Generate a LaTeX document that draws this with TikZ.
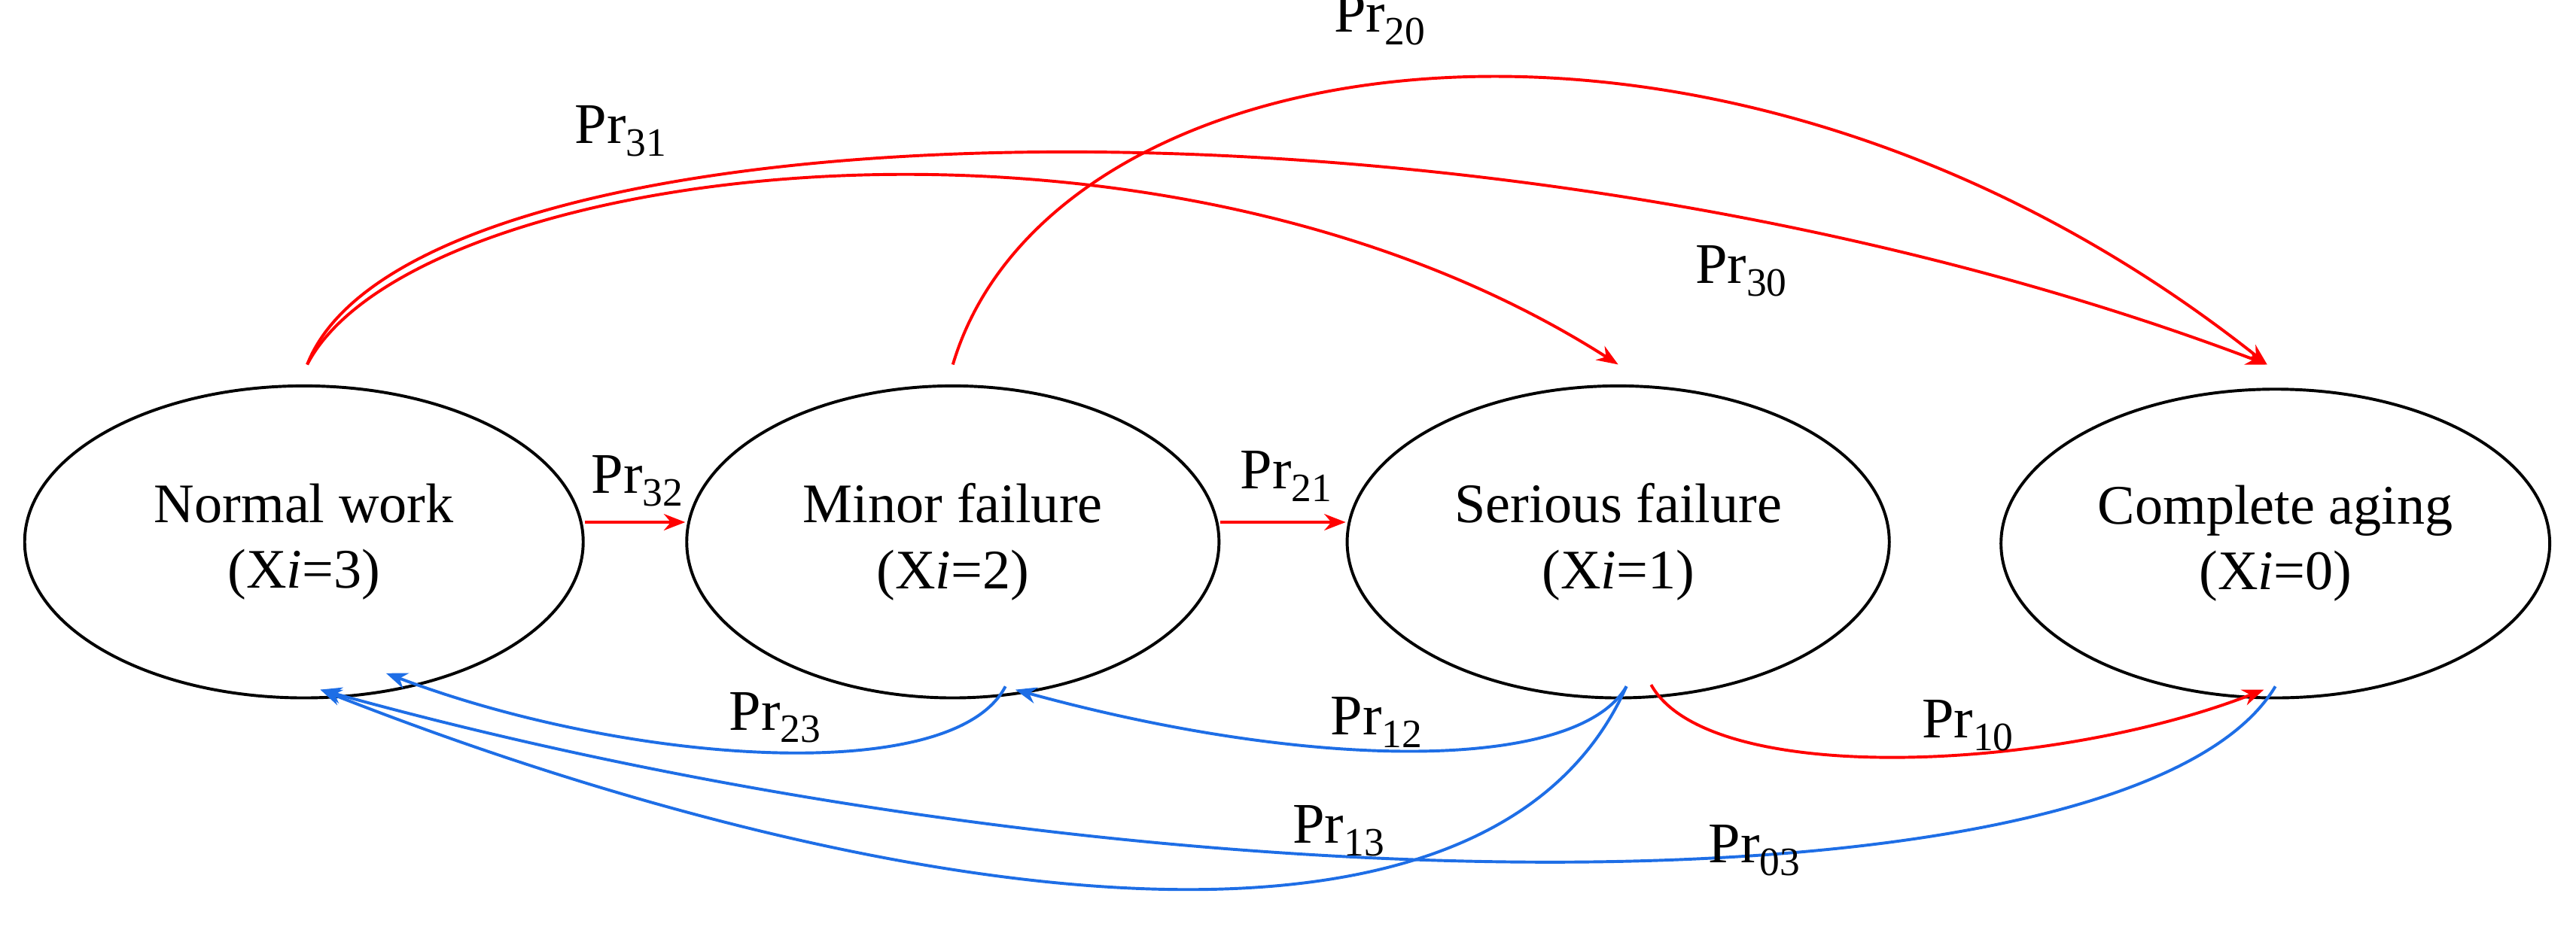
\documentclass[tikz,border=0pt]{standalone}
\usepackage{fontspec}
\setmainfont{Liberation Serif}
\usetikzlibrary{arrows.meta,shapes.geometric}
\begin{document}
\begin{tikzpicture}[x=1pt,y=-1pt,
 st/.style={draw,line width=1.8pt,ellipse,inner sep=0pt,font=\fontsize{34}{40}\selectfont,align=center},
 r/.style={draw={rgb,255:red,255;green,0;blue,0},line width=1.8pt,-{Stealth[length=13pt,width=10pt]}},
 b/.style={draw={rgb,255:red,30;green,110;blue,230},line width=1.8pt,-{Stealth[length=13pt,width=10pt]}},
 lb/.style={font=\fontsize{35}{40}\selectfont}]
\useasboundingbox (0,0) rectangle (1568,570);
\node[st,minimum width=340pt,minimum height=190pt] (n) at (185,330) {Normal work\\(X\textit{i}=3)};
\node[st,minimum width=324pt,minimum height=190pt] (m) at (580,330) {Minor failure\\(X\textit{i}=2)};
\node[st,minimum width=330pt,minimum height=190pt] (s) at (985,330) {Serious failure\\(X\textit{i}=1)};
\node[st,minimum width=334pt,minimum height=188pt] (c) at (1385,331) {Complete aging\\(X\textit{i}=0)};
\coordinate (nt) at (187,222);
\draw[r] (n.east |- 0,318) -- (m.west |- 0,318);
\draw[r] (m.east |- 0,318) -- (s.west |- 0,318);
\draw[r] (nt) .. controls (250,100) and (700,40) .. (985,222);
\draw[r] (nt) .. controls (250,60) and (900,40) .. (1380,222);
\draw[r] (580,222) .. controls (640,20) and (1050,-40) .. (1380,222);
\draw[r] (1005,417) .. controls (1040,480) and (1250,470) .. (1378,420);
\draw[b] (612,418) .. controls (580,480) and (380,465) .. (235,410);
\draw[b] (990,418) .. controls (960,470) and (800,470) .. (618,420);
\draw[b] (990,418) .. controls (900,620) and (500,540) .. (195,420);
\draw[b] (1385,418) .. controls (1300,560) and (700,560) .. (195,420);
\node[lb] at (388,293) {Pr\textsubscript{32}};
\node[lb] at (783,290) {Pr\textsubscript{21}};
\node[lb] at (378,80) {Pr\textsubscript{31}};
\node[lb] at (840,12) {Pr\textsubscript{20}};
\node[lb] at (1060,165) {Pr\textsubscript{30}};
\node[lb] at (472,437) {Pr\textsubscript{23}};
\node[lb] at (838,440) {Pr\textsubscript{12}};
\node[lb] at (1198,442) {Pr\textsubscript{10}};
\node[lb] at (815,506) {Pr\textsubscript{13}};
\node[lb] at (1068,518) {Pr\textsubscript{03}};
\end{tikzpicture}
\end{document}
